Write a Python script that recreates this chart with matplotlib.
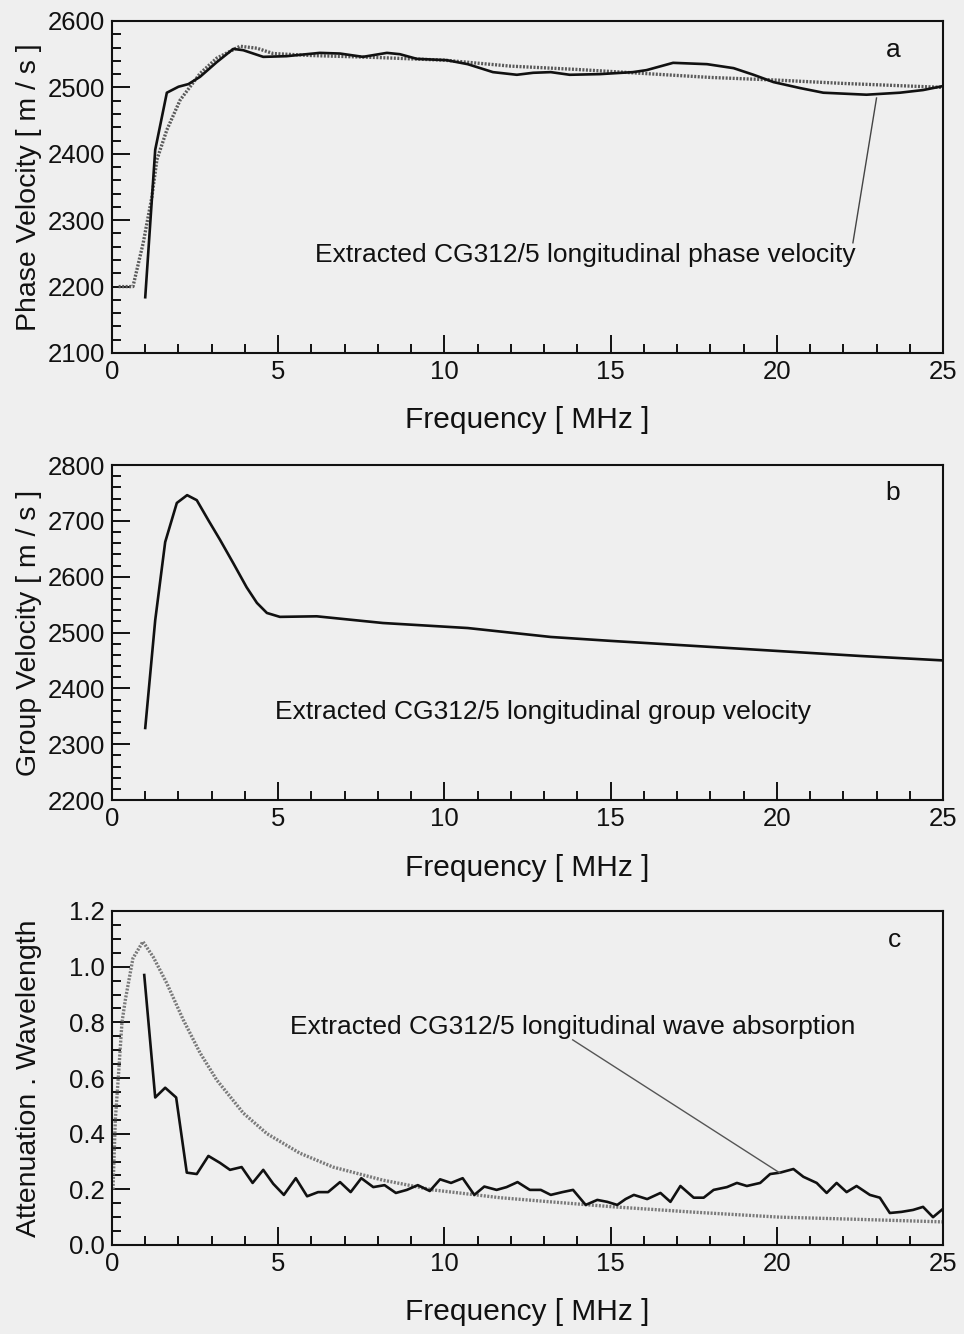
import matplotlib
matplotlib.use("Agg")
import matplotlib.pyplot as plt
from matplotlib.ticker import MultipleLocator, FormatStrFormatter

plt.rcParams['font.family'] = ['Liberation Sans', 'DejaVu Sans']

# ---------------- data ----------------
# (a) phase velocity
phase_f = [1.0, 1.3, 1.65, 2.0, 2.3, 2.65, 3.15, 3.65, 3.95, 4.55, 5.25, 6.25, 6.86, 7.55,
           8.27, 8.66, 9.17, 10.07, 10.7, 11.46, 12.18, 12.67, 13.2, 13.77, 14.68, 15.67,
           16.08, 16.88, 17.9, 18.7, 19.3, 19.9, 20.7, 21.4, 22.7, 23.7, 24.4, 25.0]
phase_v = [2184, 2406, 2492, 2501, 2505, 2516, 2538, 2558, 2556, 2546, 2547, 2552, 2551, 2546,
           2552, 2550, 2543, 2541, 2535, 2523, 2519, 2522, 2523, 2519, 2520, 2523,
           2526, 2537, 2535, 2529, 2519, 2508, 2499, 2492, 2489, 2492, 2496, 2502]
phase_model_f = [0.2, 0.63, 0.94, 1.2, 1.35, 1.65, 2.05, 2.65, 3.15, 3.85, 4.36, 4.85, 6, 8,
                 10, 12, 14, 16, 18, 20, 22, 25]
phase_model_v = [2200, 2200, 2266, 2335, 2391, 2436, 2481, 2521, 2544, 2562, 2559, 2551, 2548,
                 2545, 2541, 2532, 2527, 2521, 2515, 2511, 2506, 2500]

# (b) group velocity
group_f = [1.0, 1.3, 1.6, 1.95, 2.26, 2.55, 2.9, 3.25, 3.65, 4.05, 4.36, 4.66, 5.05, 6.16,
           8.15, 10.7, 13.2, 15, 17.5, 20, 22.5, 25]
group_v = [2329, 2522, 2662, 2732, 2746, 2737, 2701, 2666, 2624, 2581, 2553, 2535, 2528, 2529,
           2517, 2508, 2492, 2485, 2476, 2467, 2458, 2450]

# (c) attenuation * wavelength
atten_f = [0.97, 1.3, 1.6, 1.93, 2.25, 2.55, 2.9, 3.25, 3.55, 3.9, 4.23, 4.55, 4.85, 5.17,
           5.53, 5.87, 6.2, 6.5, 6.86, 7.18, 7.5, 7.86, 8.2, 8.54, 8.87, 9.2, 9.56, 9.87,
           10.2, 10.55, 10.9, 11.2, 11.57, 11.87, 12.2, 12.57, 12.9, 13.2, 13.55, 13.87,
           14.25, 14.6, 14.9, 15.2, 15.45, 15.7, 16.1, 16.5, 16.8, 17.1, 17.5, 17.8, 18.1,
           18.5, 18.8, 19.1, 19.5, 19.8, 20.1, 20.5, 20.8, 21.2, 21.5, 21.8, 22.1, 22.4,
           22.8, 23.1, 23.4, 23.75, 24.1, 24.4, 24.7, 25.0]
atten_v = [0.97, 0.53, 0.565, 0.53, 0.26, 0.255, 0.32, 0.295, 0.27, 0.28, 0.223, 0.27, 0.22,
           0.18, 0.24, 0.175, 0.19, 0.19, 0.226, 0.19, 0.24, 0.208, 0.215, 0.187, 0.198,
           0.215, 0.194, 0.236, 0.223, 0.24, 0.18, 0.21, 0.198, 0.208, 0.226, 0.198, 0.198,
           0.18, 0.19, 0.198, 0.144, 0.162, 0.155, 0.144, 0.165, 0.18, 0.165, 0.187, 0.155,
           0.212, 0.17, 0.17, 0.198, 0.208, 0.223, 0.212, 0.223, 0.255, 0.26, 0.273, 0.245,
           0.223, 0.187, 0.223, 0.19, 0.212, 0.18, 0.17, 0.115, 0.119, 0.126, 0.137, 0.1, 0.13]
atten_model_f = [0.03, 0.1, 0.2, 0.3, 0.4, 0.63, 0.93, 1.24, 1.65, 2.14, 2.65, 3.15, 3.95,
                 4.66, 5.65, 6.65, 8.15, 9.65, 11.67, 13.2, 15.1, 17.5, 20.1, 22.5, 25]
atten_model_v = [0.2, 0.45, 0.62, 0.8, 0.88, 1.03, 1.09, 1.035, 0.94, 0.81, 0.69, 0.593,
                 0.474, 0.40, 0.33, 0.28, 0.233, 0.198, 0.17, 0.155, 0.137, 0.118, 0.10,
                 0.092, 0.083]

x_ticks = [0, 5, 10, 15, 20, 25]
phase_ticks = [2100, 2200, 2300, 2400, 2500, 2600]
group_ticks = [2200, 2300, 2400, 2500, 2600, 2700, 2800]
atten_ticks = [0.0, 0.2, 0.4, 0.6, 0.8, 1.0, 1.2]

# ---------------- style ----------------
BG = '#efefef'
INK = '#111111'
W, H = 964, 1334
fig = plt.figure(figsize=(W / 100, H / 100), dpi=100, facecolor=BG)

TICK_FS = 18.5
XLABEL_FS = 21.5
YLABEL_FS = 20.5
ANN_FS = 19


def make_axes(top_px, bot_px):
    left, right = 112, 943
    return fig.add_axes([left / W, 1 - bot_px / H, (right - left) / W, (bot_px - top_px) / H],
                        facecolor=BG)


def style(ax, yticks, yminor, ylabel, fmt=None):
    ax.set_xlim(0, 25)
    ax.set_ylim(yticks[0], yticks[-1])
    ax.set_xticks(x_ticks)
    ax.set_yticks(yticks)
    ax.xaxis.set_minor_locator(MultipleLocator(1))
    ax.yaxis.set_minor_locator(MultipleLocator(yminor))
    if fmt:
        ax.yaxis.set_major_formatter(FormatStrFormatter(fmt))
    ax.tick_params(which='both', direction='in', top=False, right=False, width=1.4,
                   color=INK, labelsize=TICK_FS, labelcolor=INK)
    ax.tick_params(which='major', length=13, pad=5)
    ax.tick_params(which='minor', length=6.5)
    for s in ax.spines.values():
        s.set_linewidth(1.5)
        s.set_color(INK)
    ax.set_xlabel('Frequency [ MHz ]', fontsize=XLABEL_FS, color=INK)
    ax.set_ylabel(ylabel, fontsize=YLABEL_FS, color=INK)
    ax.xaxis.set_label_coords(0.5, -0.16)
    ax.yaxis.set_label_coords(-0.084, 0.5)


# (a)
ax1 = make_axes(21, 353)
ax1.plot(phase_model_f, phase_model_v, color='#5a5a5a', lw=2.4, ls=(0, (0.6, 0.45)))
ax1.plot(phase_f, phase_v, color=INK, lw=1.9)
style(ax1, phase_ticks, 20, 'Phase Velocity [ m / s ]')
ax1.text(6.1, 2248, 'Extracted CG312/5 longitudinal phase velocity', fontsize=ANN_FS,
         ha='left', va='center', color=INK)
ax1.plot([22.29, 23.0], [2266, 2484], color='#444444', lw=1.0)
ax1.text(23.5, 2556, 'a', fontsize=ANN_FS, ha='center', va='center', color=INK)

# (b)
ax2 = make_axes(465, 800)
ax2.plot(group_f, group_v, color=INK, lw=1.9)
style(ax2, group_ticks, 20, 'Group Velocity [ m / s ]')
ax2.text(4.9, 2357, 'Extracted CG312/5 longitudinal group velocity', fontsize=ANN_FS,
         ha='left', va='center', color=INK)
ax2.text(23.5, 2750, 'b', fontsize=ANN_FS, ha='center', va='center', color=INK)

# (c)
ax3 = make_axes(911, 1245)
ax3.plot(atten_model_f, atten_model_v, color='#7a7a7a', lw=2.4, ls=(0, (0.6, 0.45)))
ax3.plot(atten_f, atten_v, color=INK, lw=1.9)
style(ax3, atten_ticks, 0.05, 'Attenuation . Wavelength', fmt='%.1f')
ax3.text(5.35, 0.783, 'Extracted CG312/5 longitudinal wave absorption', fontsize=ANN_FS,
         ha='left', va='center', color=INK)
ax3.plot([13.86, 20.09], [0.737, 0.259], color='#555555', lw=1.0)
ax3.text(23.55, 1.096, 'c', fontsize=ANN_FS, ha='center', va='center', color=INK)

fig.savefig('out.png', dpi=100, facecolor=BG)
